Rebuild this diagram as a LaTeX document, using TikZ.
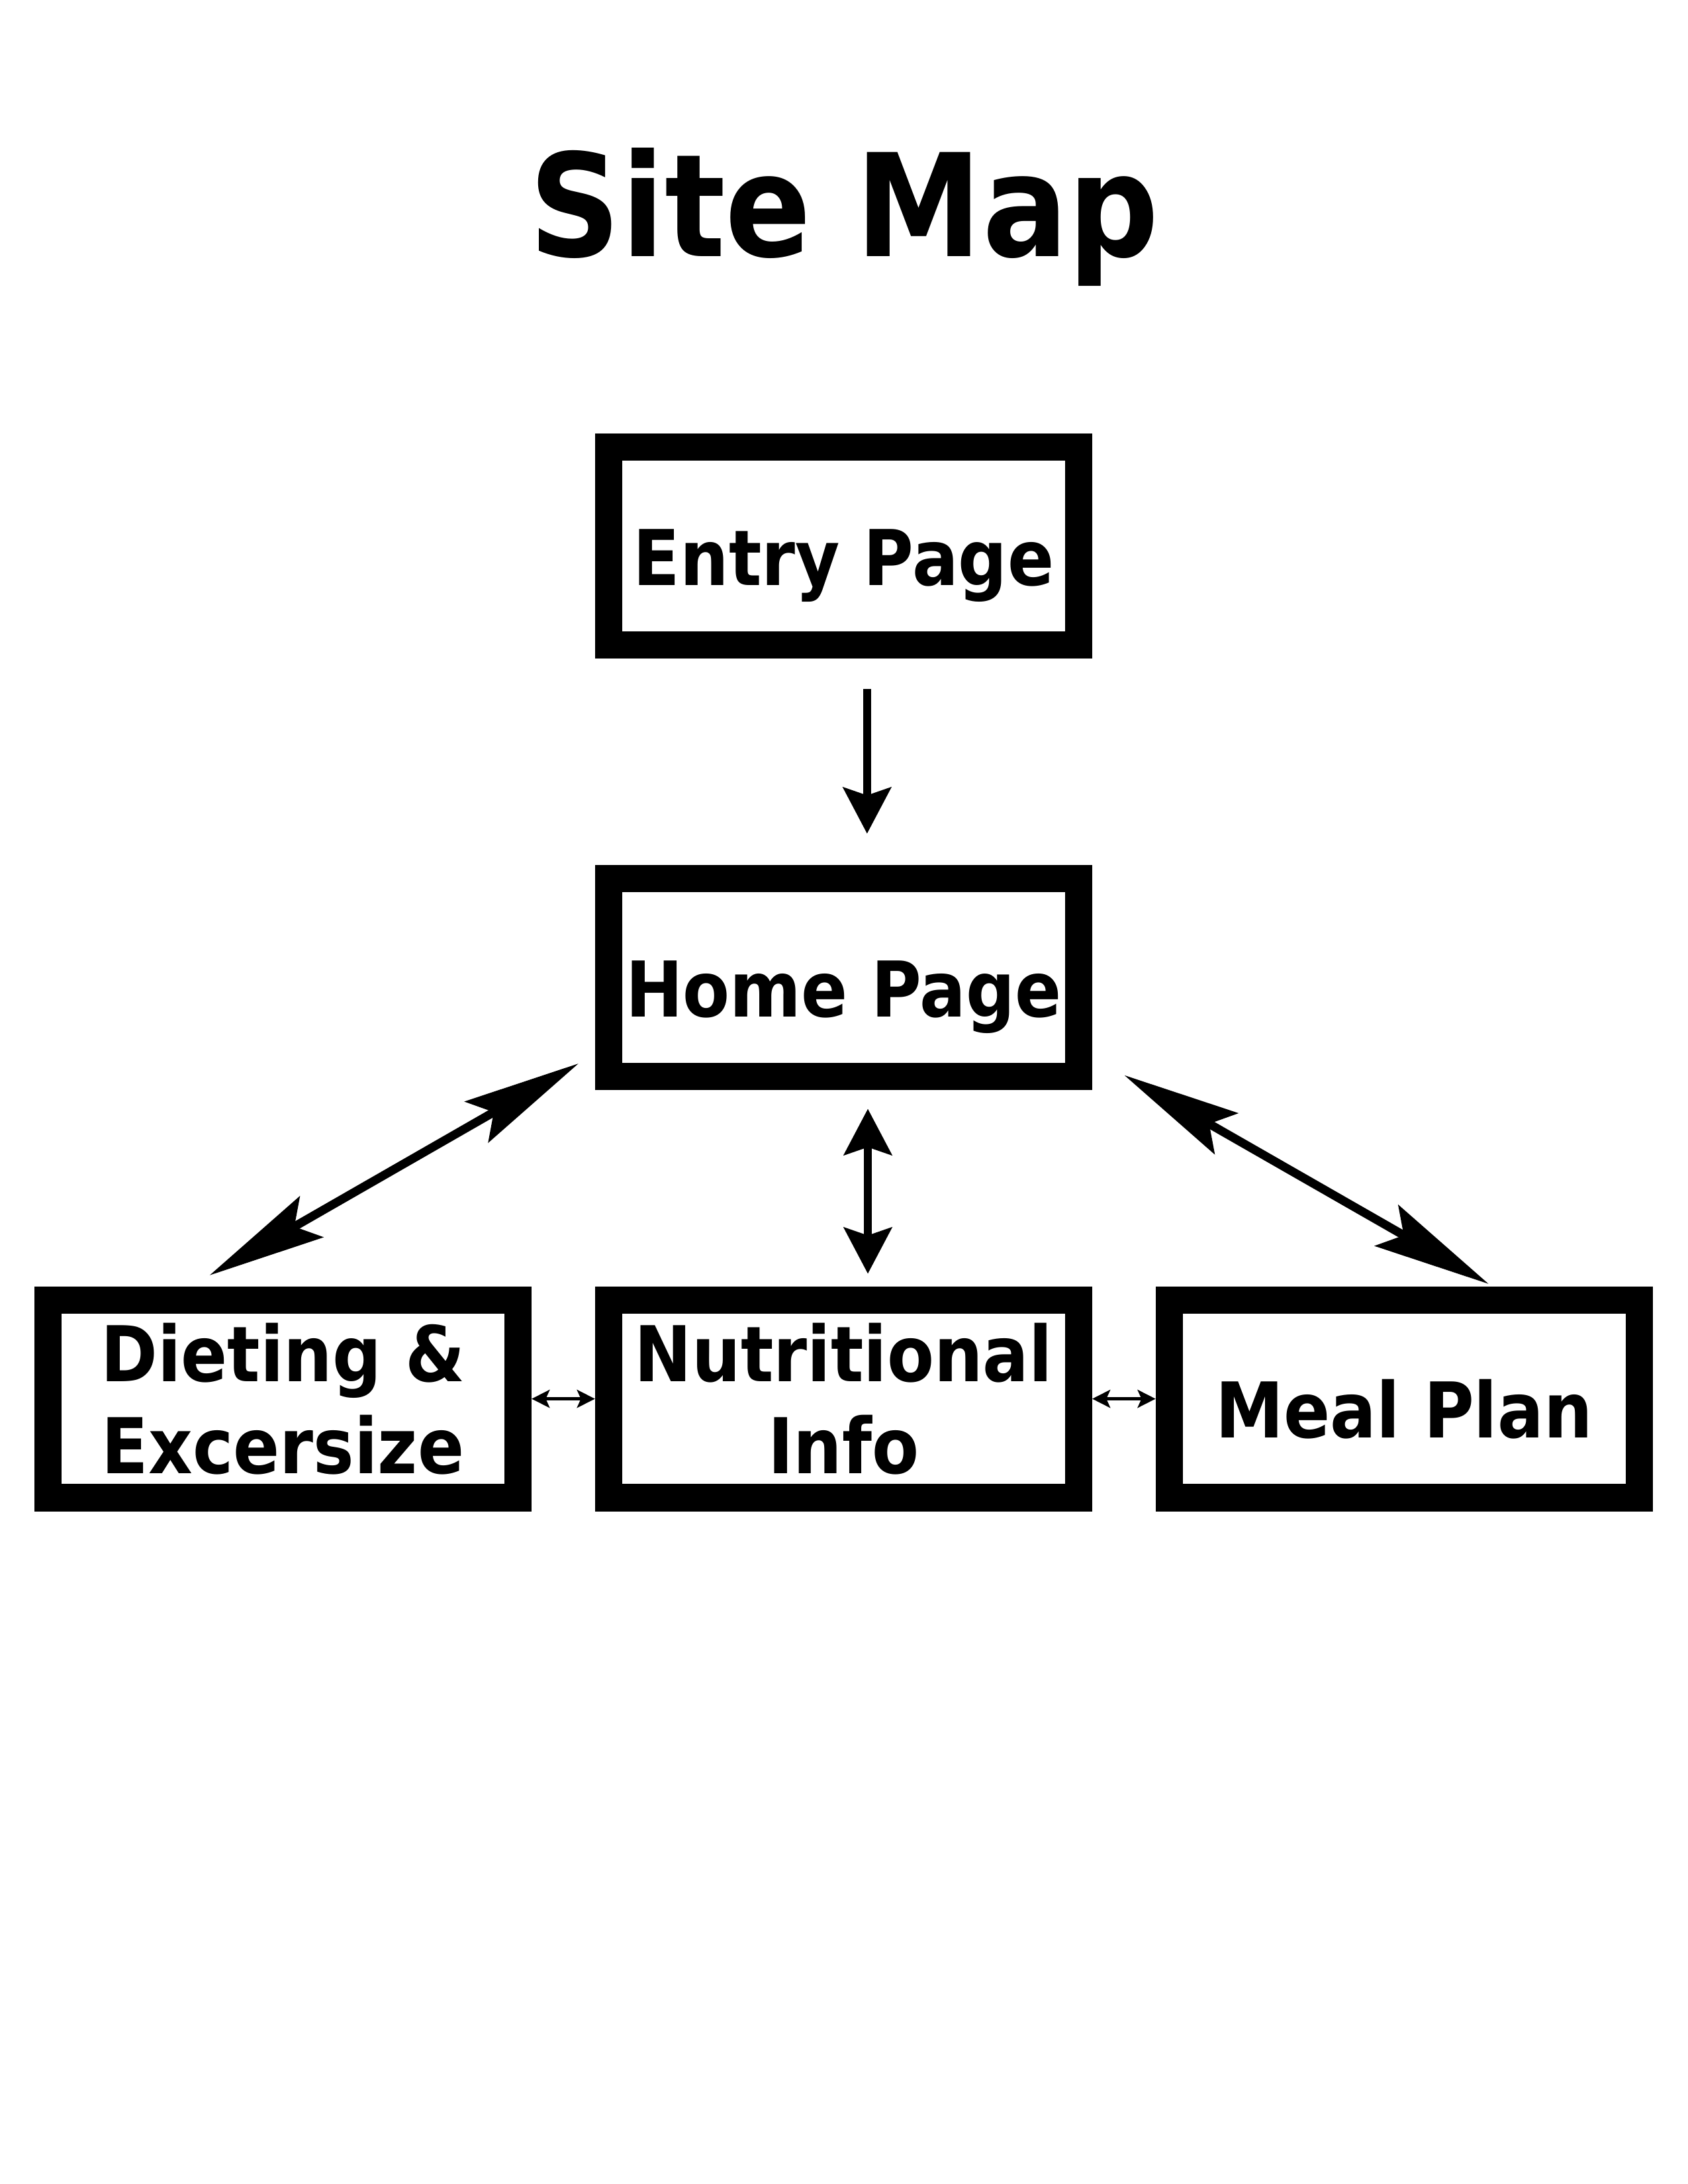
\documentclass[tikz,border=0pt]{standalone}
\usepackage{fontspec}
\newfontfamily\mapfont[FakeStretch=0.89]{DejaVu Sans}
\usetikzlibrary{arrows.meta,positioning}

\begin{document}
\begin{tikzpicture}[node distance=7.17cm]
        \tikzstyle{page} = [draw, line width=0.35cm, rectangle, inner sep=0pt, minimum width=6.01cm, minimum height=2.53cm, align=center, font=\mapfont\bfseries\fontsize{28}{33.6}\selectfont]
        \tikzstyle{oneline} = [text height=1cm, text depth=0pt]
        \tikzstyle{down} = [line width=0.1cm, ->, >={Stealth[length=0.59cm,width=0.61cm,inset=0.1cm]}]
        \tikzstyle{link} = [line width=0.11cm, <->, >={Stealth[length=1.5cm,width=0.6cm,inset=0.25cm]}]
        \tikzstyle{side} = [line width=0.04cm, <->, >={Stealth[length=0.23cm,width=0.23cm,inset=0.05cm]}]

        \useasboundingbox (0,0) rectangle (21.59,-27.94);

        \node [anchor=base, font=\mapfont\bfseries\fontsize{52}{62}\selectfont] (title) at (10.8,-3.28) {Site Map};
        \node [page, oneline] (entry) at (10.79,-6.985) {Entry Page};
        \node [page, oneline, below of=entry, node distance=5.52cm] (home) {Home Page};
        \node [page, below of=home, node distance=5.39cm] (nutri) {Nutritional\\Info};
        \node [page, left of=nutri] (diet) {Dieting \&\\Excersize};
        \node [page, oneline, right of=nutri] (meal) {Meal Plan};

        \draw [down, shorten <=0.39cm, shorten >=0.4cm] ([xshift=0.3cm]entry.south) -- ([xshift=0.3cm]home.north);
        \draw [down, <->, shorten <=0.24cm, shorten >=0.16cm] ([xshift=0.31cm]home.south) -- ([xshift=0.31cm]nutri.north);
        \draw [link] ([xshift=-0.94cm,yshift=0.14cm]diet.north) -- ([xshift=-0.21cm,yshift=0.34cm]home.south west);
        \draw [link] ([xshift=0.41cm,yshift=0.19cm]home.south east) -- ([xshift=1.08cm,yshift=0.03cm]meal.north);
        \draw [side] (diet) -- (nutri);
        \draw [side] (nutri) -- (meal);
\end{tikzpicture}
\end{document}
